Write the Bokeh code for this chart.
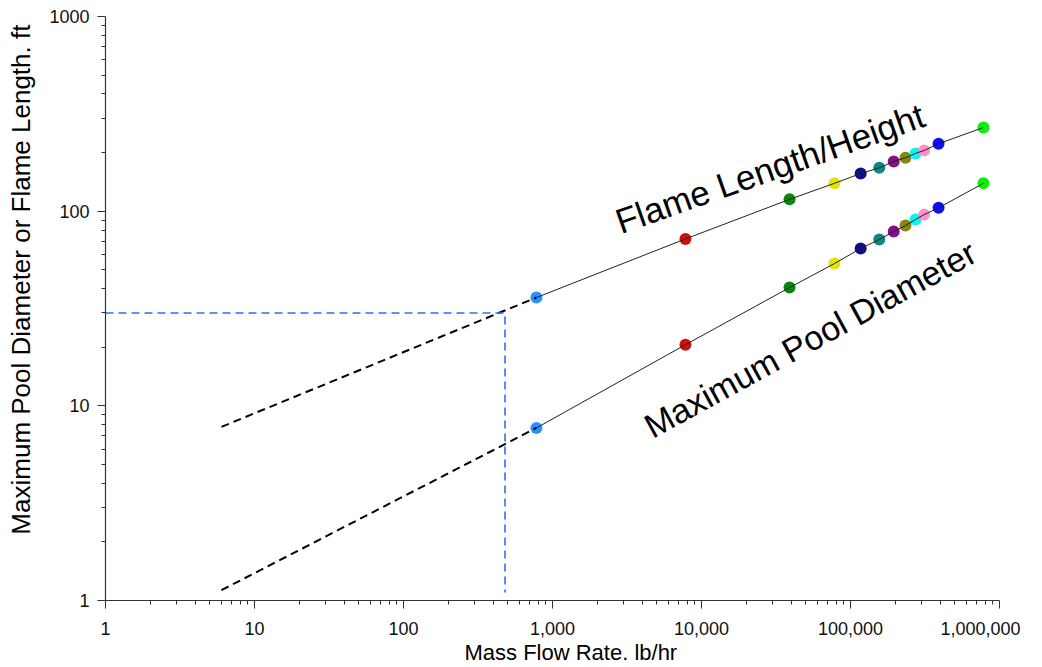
import math
from bokeh.plotting import figure
from bokeh.models import Range1d, FixedTicker, CustomJSTickFormatter
from bokeh.core.properties import value
from bokeh.embed import file_html
from bokeh.resources import INLINE

# ---- data ----
flow_rate = [780, 7800, 39000, 78000, 117000, 156000, 195000, 234000, 273000, 312000, 390000, 780000]
flame_length = [36, 72, 115, 139, 156, 167, 180, 188, 198, 205, 222, 269]
pool_diameter = [7.7, 20.6, 40.5, 53.8, 64.3, 71.5, 78.6, 84.4, 90.6, 96, 104, 139]
point_colors = ["#1e8cff", "#cc0000", "#008000", "#e0e000", "#000088", "#008080",
                "#800080", "#808000", "#00f0f0", "#ff88c8", "#0000ff", "#00ee00"]

flame_ext_x = [6, 780]
flame_ext_y = [7.8, 36]
pool_ext_x = [6, 780]
pool_ext_y = [1.13, 7.7]

ref_x = [1, 480, 480]
ref_y = [30, 30, 1.1]

curve_labels = ["Flame Length/Height", "Maximum Pool Diameter"]
curve_label_x = [2700, 4300]
curve_label_y = [87.4, 7.64]
curve_label_angle_deg = [19.5, 28.7]
curve_label_size = ["35px", "34px"]

x_ticks = [1, 10, 100, 1000, 10000, 100000, 1000000]
y_ticks = [1, 10, 100, 1000]
x_title = "Mass Flow Rate. lb/hr"
y_title = "Maximum Pool Diameter or Flame Length. ft"

FONT = "Liberation Sans"
NBSP = "\u00a0"

p = figure(width=1040, height=667, x_axis_type="log", y_axis_type="log",
           x_range=Range1d(1, 1e6), y_range=Range1d(1, 1000),
           output_backend="svg", toolbar_location=None,
           min_border_left=105, min_border_right=41, min_border_top=16, min_border_bottom=67)
p.outline_line_color = None
p.xgrid.visible = False
p.ygrid.visible = False
p.background_fill_color = "white"
p.border_fill_color = "white"

def minors(majors):
    out = []
    for m in majors[:-1]:
        for k in range(2, 10):
            out.append(m * k)
    return out

p.xaxis.ticker = FixedTicker(ticks=x_ticks, minor_ticks=minors(x_ticks))
p.yaxis.ticker = FixedTicker(ticks=y_ticks, minor_ticks=minors(y_ticks))
p.xaxis.formatter = CustomJSTickFormatter(code=r"""
const s = Math.round(tick).toString().replace(/\B(?=(\d{3})+(?!\d))/g, ",");
if (tick >= 999999) { return s + "\u00a0\u00a0\u00a0\u00a0"; }
return s;
""")
p.yaxis.formatter = CustomJSTickFormatter(code="return Math.round(tick).toString();")

for ax in (p.xaxis, p.yaxis):
    ax.axis_line_color = "#333333"
    ax.axis_line_width = 1.2
    ax.major_tick_line_color = "#333333"
    ax.minor_tick_line_color = "#333333"
    ax.major_tick_out = 8
    ax.major_tick_in = 0
    ax.minor_tick_out = 4
    ax.minor_tick_in = 0
    ax.major_label_text_font = FONT
    ax.major_label_text_font_size = "18px"
    ax.major_label_text_color = "#111111"
    ax.axis_label_text_font = FONT
    ax.axis_label_text_font_style = "normal"
    ax.axis_label_text_color = "black"

p.xaxis.major_label_standoff = 10
p.yaxis.major_label_standoff = 8

p.xaxis.axis_label = NBSP * 6 + x_title
p.xaxis.axis_label_text_font_size = "22px"
p.xaxis.axis_label_standoff = -2
p.yaxis.axis_label = NBSP * 8 + y_title
p.yaxis.axis_label_text_font_size = "26px"
p.yaxis.axis_label_standoff = 10

# markers first, then lines on top
p.scatter(flow_rate, flame_length, size=12, color=point_colors, line_color=None, alpha=0.95)
p.scatter(flow_rate, pool_diameter, size=12, color=point_colors, line_color=None, alpha=0.95)
p.line(flow_rate, flame_length, line_color="#222222", line_width=1)
p.line(flow_rate, pool_diameter, line_color="#222222", line_width=1)

p.line(flame_ext_x, flame_ext_y, line_color="black", line_width=2, line_dash="8 5")
p.line(pool_ext_x, pool_ext_y, line_color="black", line_width=2, line_dash="8 5")
p.line(ref_x, ref_y, line_color="#2f6dff", line_width=1.6, line_dash="8 5")

p.text(x=curve_label_x, y=curve_label_y, text=curve_labels,
       angle=[math.radians(a) for a in curve_label_angle_deg],
       text_font=value(FONT), text_font_size=curve_label_size, text_color="black",
       text_align="left", text_baseline="alphabetic")

open("out.html", "w").write(file_html(p, INLINE))
